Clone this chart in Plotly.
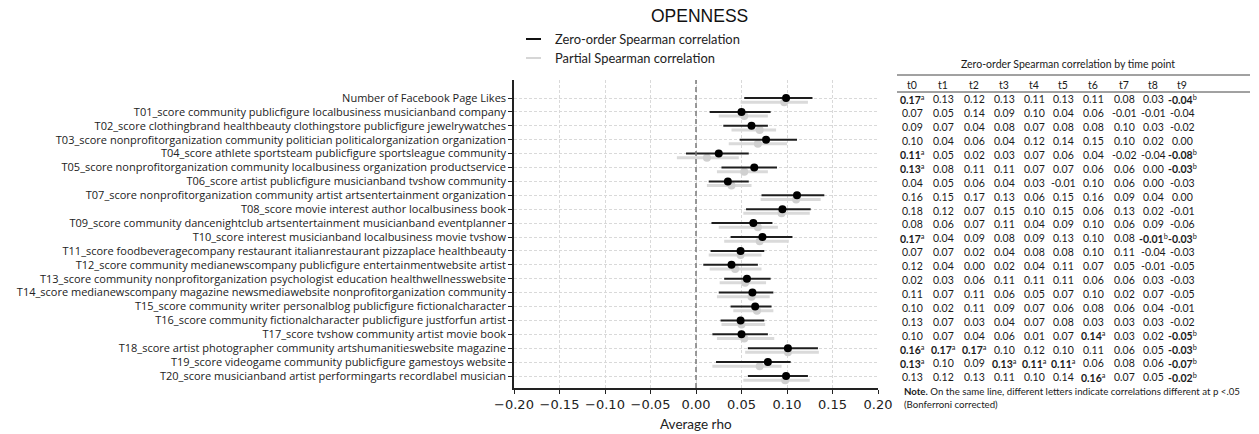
import plotly.graph_objects as go

# ---------------- data ----------------
labels = [
    "Number of Facebook Page Likes",
    "T01_score community publicfigure localbusiness musicianband company",
    "T02_score clothingbrand healthbeauty clothingstore publicfigure jewelrywatches",
    "T03_score nonprofitorganization community politician politicalorganization organization",
    "T04_score athlete sportsteam publicfigure sportsleague community",
    "T05_score nonprofitorganization community localbusiness organization productservice",
    "T06_score artist publicfigure musicianband tvshow community",
    "T07_score nonprofitorganization community artist artsentertainment organization",
    "T08_score movie interest author localbusiness book",
    "T09_score community dancenightclub artsentertainment musicianband eventplanner",
    "T10_score interest musicianband localbusiness movie tvshow",
    "T11_score foodbeveragecompany restaurant italianrestaurant pizzaplace healthbeauty",
    "T12_score community medianewscompany publicfigure entertainmentwebsite artist",
    "T13_score community nonprofitorganization psychologist education healthwellnesswebsite",
    "T14_score medianewscompany magazine newsmediawebsite nonprofitorganization community",
    "T15_score community writer personalblog publicfigure fictionalcharacter",
    "T16_score community fictionalcharacter publicfigure justforfun artist",
    "T17_score tvshow community artist movie book",
    "T18_score artist photographer community artshumanitieswebsite magazine",
    "T19_score videogame community publicfigure gamestoys website",
    "T20_score musicianband artist performingarts recordlabel musician",
]

zero_rho = [0.099, 0.050, 0.061, 0.077, 0.025, 0.064, 0.035, 0.111, 0.095, 0.063, 0.073,
            0.049, 0.039, 0.056, 0.062, 0.065, 0.049, 0.050, 0.101, 0.079, 0.099]
zero_lo = [0.053, 0.015, 0.030, 0.048, -0.011, 0.028, 0.014, 0.072, 0.055, 0.017, 0.038,
           0.016, 0.008, 0.031, 0.025, 0.038, 0.027, 0.018, 0.057, 0.022, 0.057]
zero_hi = [0.128, 0.082, 0.079, 0.111, 0.058, 0.089, 0.058, 0.141, 0.126, 0.084, 0.106,
           0.075, 0.068, 0.082, 0.085, 0.083, 0.075, 0.079, 0.134, 0.104, 0.123]

partial_rho = [0.097, 0.053, 0.070, 0.068, 0.012, 0.053, 0.039, 0.110, 0.094, 0.068, 0.070,
               0.049, 0.043, 0.054, 0.061, 0.067, 0.050, 0.053, 0.101, 0.070, 0.098]
partial_lo = [0.049, 0.025, 0.039, 0.036, -0.021, 0.023, 0.012, 0.071, 0.052, 0.025, 0.031,
              0.014, 0.015, 0.026, 0.023, 0.041, 0.028, 0.023, 0.054, 0.018, 0.052]
partial_hi = [0.123, 0.079, 0.088, 0.100, 0.047, 0.079, 0.061, 0.137, 0.125, 0.090, 0.102,
              0.072, 0.072, 0.077, 0.081, 0.085, 0.076, 0.086, 0.135, 0.094, 0.125]

time_points = ["t0", "t1", "t2", "t3", "t4", "t5", "t6", "t7", "t8", "t9"]
table_values = [
    [0.17, 0.13, 0.12, 0.13, 0.11, 0.13, 0.11, 0.08, 0.03, -0.04],
    [0.07, 0.05, 0.14, 0.09, 0.10, 0.04, 0.06, -0.01, -0.01, -0.04],
    [0.09, 0.07, 0.04, 0.08, 0.07, 0.08, 0.08, 0.10, 0.03, -0.02],
    [0.10, 0.04, 0.06, 0.04, 0.12, 0.14, 0.15, 0.10, 0.02, 0.00],
    [0.11, 0.05, 0.02, 0.03, 0.07, 0.06, 0.04, -0.02, -0.04, -0.08],
    [0.13, 0.08, 0.11, 0.11, 0.07, 0.07, 0.06, 0.06, 0.00, -0.03],
    [0.04, 0.05, 0.06, 0.04, 0.03, -0.01, 0.10, 0.06, 0.00, -0.03],
    [0.16, 0.15, 0.17, 0.13, 0.06, 0.15, 0.16, 0.09, 0.04, 0.00],
    [0.18, 0.12, 0.07, 0.15, 0.10, 0.15, 0.06, 0.13, 0.02, -0.01],
    [0.08, 0.06, 0.07, 0.11, 0.04, 0.09, 0.10, 0.06, 0.09, -0.06],
    [0.17, 0.04, 0.09, 0.08, 0.09, 0.13, 0.10, 0.08, -0.01, -0.03],
    [0.07, 0.07, 0.02, 0.04, 0.08, 0.08, 0.10, 0.11, -0.04, -0.03],
    [0.12, 0.04, 0.00, 0.02, 0.04, 0.11, 0.07, 0.05, -0.01, -0.05],
    [0.02, 0.03, 0.06, 0.11, 0.11, 0.11, 0.06, 0.06, 0.03, -0.03],
    [0.11, 0.07, 0.11, 0.06, 0.05, 0.07, 0.10, 0.02, 0.07, -0.05],
    [0.10, 0.02, 0.11, 0.09, 0.07, 0.06, 0.08, 0.06, 0.04, -0.01],
    [0.13, 0.07, 0.03, 0.04, 0.07, 0.08, 0.03, 0.03, 0.03, -0.02],
    [0.10, 0.07, 0.04, 0.06, 0.01, 0.07, 0.14, 0.03, 0.02, -0.05],
    [0.16, 0.17, 0.17, 0.10, 0.12, 0.10, 0.11, 0.06, 0.05, -0.03],
    [0.13, 0.10, 0.09, 0.13, 0.11, 0.11, 0.06, 0.08, 0.06, -0.07],
    [0.13, 0.12, 0.13, 0.11, 0.10, 0.14, 0.16, 0.07, 0.05, -0.02],
]
table_letters = [
    ["a", "", "", "", "", "", "", "", "", "b"],
    [""] * 10,
    [""] * 10,
    [""] * 10,
    ["a", "", "", "", "", "", "", "", "", "b"],
    ["a", "", "", "", "", "", "", "", "", "b"],
    [""] * 10,
    [""] * 10,
    [""] * 10,
    [""] * 10,
    ["a", "", "", "", "", "", "", "", "b", "b"],
    [""] * 10,
    [""] * 10,
    [""] * 10,
    [""] * 10,
    [""] * 10,
    [""] * 10,
    ["", "", "", "", "", "", "a", "", "", "b"],
    ["a", "a", "a", "", "", "", "", "", "", "b"],
    ["a", "", "", "a", "a", "a", "", "", "", "b"],
    ["", "", "", "", "", "", "a", "", "", "b"],
]

x_ticks = [-0.20, -0.15, -0.10, -0.05, 0.00, 0.05, 0.10, 0.15, 0.20]

# ---------------- layout geometry ----------------
W, H = 1259, 434
L, R, T, B = 514, 381, 80, 46
PW, PH = W - L - R, H - T - B


def px(xp):
    return (xp - L) / PW


def py(yp):
    return (H - B - yp) / PH


rows = list(range(len(labels)))
partial_rows = [r + 0.3 for r in rows]

fig = go.Figure()

fig.add_trace(go.Scatter(
    x=partial_rho, y=partial_rows, mode="markers",
    marker=dict(color="#d0d0d0", size=8),
    error_x=dict(type="data", symmetric=False,
                 array=[h - v for h, v in zip(partial_hi, partial_rho)],
                 arrayminus=[v - l for v, l in zip(partial_rho, partial_lo)],
                 color="#dadada", thickness=3, width=0),
    showlegend=False, hoverinfo="skip",
))
fig.add_trace(go.Scatter(
    x=zero_rho, y=rows, mode="markers",
    marker=dict(color="#000000", size=8),
    error_x=dict(type="data", symmetric=False,
                 array=[h - v for h, v in zip(zero_hi, zero_rho)],
                 arrayminus=[v - l for v, l in zip(zero_rho, zero_lo)],
                 color="#1e1e1e", thickness=2, width=0),
    showlegend=False, hoverinfo="skip",
))

shapes = []
annotations = []

# zero dashed line
shapes.append(dict(type="line", xref="x", yref="paper", x0=0, x1=0, y0=0, y1=1,
                   line=dict(color="#7a7a7a", width=1.5, dash="5px,3px"), layer="above"))

# title
annotations.append(dict(text="OPENNESS", xref="paper", yref="paper", x=px(699), y=py(16),
                        showarrow=False, xanchor="center", yanchor="middle",
                        font=dict(family="Liberation Sans", size=17.5, color="#111")))

# legend (manual)
shapes.append(dict(type="line", xref="paper", yref="paper", x0=px(526), x1=px(541),
                   y0=py(39), y1=py(39), line=dict(color="#111", width=2)))
shapes.append(dict(type="line", xref="paper", yref="paper", x0=px(526), x1=px(541),
                   y0=py(58), y1=py(58), line=dict(color="#d6d6d6", width=2)))
annotations.append(dict(text="Zero-order Spearman correlation", xref="paper", yref="paper",
                        x=px(553), y=py(39), showarrow=False, xanchor="left", yanchor="middle",
                        font=dict(family="Lato", size=12.9, color="#222")))
annotations.append(dict(text="Partial Spearman correlation", xref="paper", yref="paper",
                        x=px(553), y=py(58), showarrow=False, xanchor="left", yanchor="middle",
                        font=dict(family="Lato", size=12.9, color="#222")))

# x axis title
annotations.append(dict(text="Average rho", xref="paper", yref="paper", x=px(696), y=py(424),
                        showarrow=False, xanchor="center", yanchor="middle",
                        font=dict(family="Lato", size=13.5, color="#222")))

# ---------------- table ----------------
col_x = [912, 943, 974, 1004, 1034, 1063, 1093, 1124, 1153, 1182]
tfont = dict(family="Lato", size=10.5, color="#1a1a1a")
annotations.append(dict(text="Zero-order Spearman correlation by time point", xref="paper",
                        yref="paper", x=px(1068), y=py(64), showarrow=False,
                        xanchor="center", yanchor="middle", font=tfont))
shapes.append(dict(type="line", xref="paper", yref="paper", x0=px(897), x1=px(1250),
                   y0=py(75), y1=py(75), line=dict(color="#444", width=1)))
shapes.append(dict(type="line", xref="paper", yref="paper", x0=px(897), x1=px(1250),
                   y0=py(92), y1=py(92), line=dict(color="#444", width=1)))
for cx, tp in zip(col_x, time_points):
    annotations.append(dict(text=tp, xref="paper", yref="paper", x=px(cx), y=py(85),
                            showarrow=False, xanchor="center", yanchor="middle", font=tfont))
for r, (vals, lets) in enumerate(zip(table_values, table_letters)):
    for cx, v, lt in zip(col_x, vals, lets):
        s = f"{v:.2f}"
        if lt:
            s = f"<b>{s}</b><sup>{lt}</sup>"
        annotations.append(dict(text=s, xref="paper", yref="y", x=px(cx), y=r + 0.1,
                                showarrow=False, xanchor="center", yanchor="middle",
                                font=tfont))

nfont = dict(family="Lato", size=9.7, color="#1a1a1a")
annotations.append(dict(text="<b>Note.</b> On the same line, different letters indicate correlations different at p <.05",
                        xref="paper", yref="paper", x=px(902), y=py(391), showarrow=False,
                        xanchor="left", yanchor="middle", font=nfont))
annotations.append(dict(text="(Bonferroni corrected)", xref="paper", yref="paper",
                        x=px(902), y=py(404), showarrow=False, xanchor="left",
                        yanchor="middle", font=nfont))

spacing = (376 - 98) / 20.0
y_top = -(98 - T) / spacing
y_bot = 20 + (H - B - 376) / spacing

fig.update_layout(
    width=W, height=H,
    margin=dict(l=L, r=R, t=T, b=B, pad=0),
    paper_bgcolor="white", plot_bgcolor="white",
    shapes=shapes, annotations=annotations,
    showlegend=False,
    xaxis=dict(range=[-0.2, 0.2], tickvals=x_ticks, tickformat=".2f",
               showgrid=True, gridcolor="#d9d9d9", gridwidth=1, griddash="3px,2px",
               zeroline=False, showline=True, linecolor="#222", linewidth=1.5,
               ticks="outside", ticklen=4, tickcolor="#222",
               tickfont=dict(family="DejaVu Sans", size=13, color="#222")),
    yaxis=dict(range=[y_bot, y_top], tickvals=rows, ticktext=labels,
               showgrid=True, gridcolor="#d9d9d9", gridwidth=1, griddash="3px,2px",
               zeroline=False, showline=True, linecolor="#222", linewidth=1.5,
               ticks="outside", ticklen=4, tickcolor="#222",
               tickfont=dict(family="Open Sans", size=11, color="#222")),
)

fig.write_html("out.html")
